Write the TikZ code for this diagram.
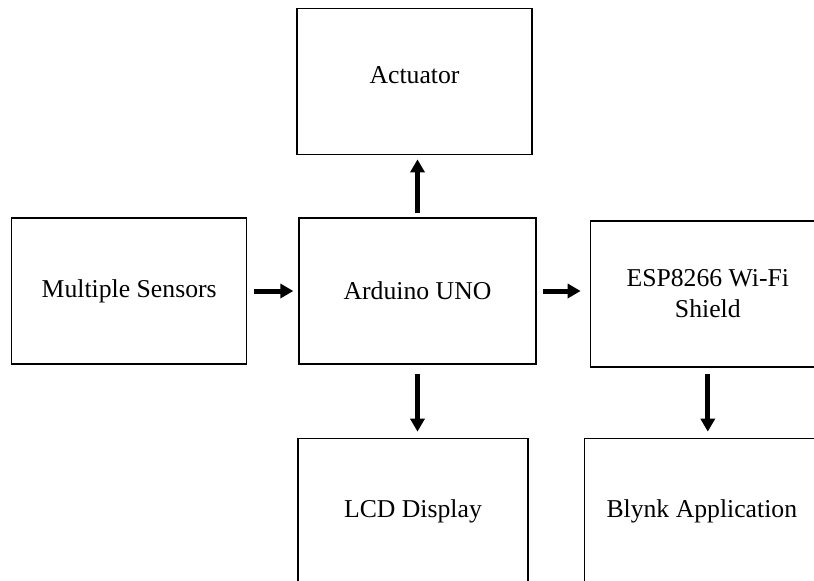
\documentclass[tikz,border=0pt]{standalone}
\usepackage{fontspec}
\setmainfont{Liberation Serif}
\usetikzlibrary{arrows.meta,positioning}

\begin{document}
\begin{tikzpicture}[x=1pt,y=-1pt,
    box/.style={draw,line width=1.3pt,minimum width=235pt,minimum height=146pt,inner sep=0pt,align=center,font=\fontsize{25.7}{31}\selectfont},
    arr/.style={-{Triangle[length=13pt,width=14pt]},line width=5pt}]
    \path[use as bounding box,clip] (0,0) rectangle (814,581);
    \node[box,minimum width=237pt] (ard) at (417.5,291) {Arduino UNO};
    \node[box,left=51pt of ard] (sens) {Multiple Sensors};
    \node[box,above=62pt of ard,xshift=-3pt,text depth=14pt] (act) {Actuator};
    \node[box,right=53pt of ard,yshift=-3pt] (esp) {ESP8266 Wi-Fi\\Shield};
    \node[box,minimum width=230pt,below=73pt of ard,xshift=-4.5pt] (lcd) {LCD Display};
    \node[box,below=70pt of esp,xshift=-6pt] (blynk) {Blynk Application};
    \draw[arr,shorten <=7pt,shorten >=5pt] (sens.east) -- (sens.east -| ard.west);
    \draw[arr,shorten <=4pt,shorten >=4pt] (ard.north) -- (ard.north |- act.south);
    \draw[arr,shorten <=6pt,shorten >=9pt] (ard.east) -- (ard.east -| esp.west);
    \draw[arr,shorten <=9pt,shorten >=6pt] (ard.south) -- (ard.south |- lcd.north);
    \draw[arr,shorten <=6pt,shorten >=6pt] (esp.south) -- (esp.south |- blynk.north);
  \end{tikzpicture}
\end{document}
